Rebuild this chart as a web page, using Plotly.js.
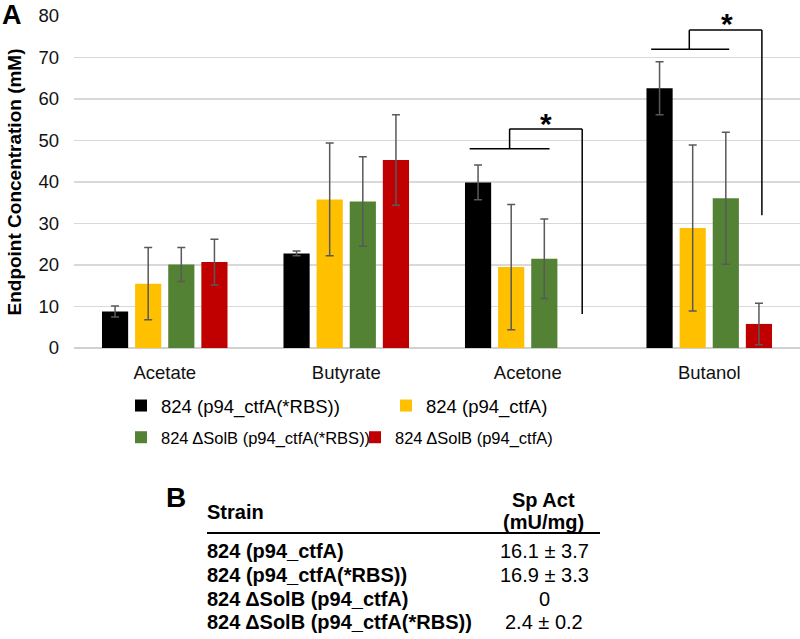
<!DOCTYPE html>
<html>
<head>
<meta charset="utf-8">
<script src="https://cdn.plot.ly/plotly-3.0.1.min.js"></script>
<style>html,body{margin:0;padding:0;background:#fff;}#chart{width:800px;height:639px;}</style>
</head>
<body>
<div id="chart"></div>
<script>
// ---- data ----
const categories = ['Acetate', 'Butyrate', 'Acetone', 'Butanol'];
const seriesNames = ['824 (p94_ctfA(*RBS))', '824 (p94_ctfA)', '824 ΔSolB (p94_ctfA(*RBS))', '824 ΔSolB (p94_ctfA)'];
const blackVals = [8.8, 22.8, 39.9, 62.6];
const blackErr = [1.3, 0.6, 4.2, 6.4];
const yellowVals = [15.5, 35.8, 19.5, 28.9];
const yellowErr = [8.7, 13.6, 15.1, 20.0];
const greenVals = [20.1, 35.3, 21.5, 36.1];
const greenErr = [4.1, 10.8, 9.6, 15.9];
const redVals = [20.7, 45.3, null, 5.8];
const redErr = [5.5, 10.9, null, 5.0];
const yTicks = [0, 10, 20, 30, 40, 50, 60, 70, 80];

// significance brackets (category-index x, data y)
const sigGroupLeft = [1.68, 2.68];
const sigGroupRight = [2.12, 3.11];
const sigGroupY = [48.0, 72.0];
const sigBracketX0 = [1.90, 2.89];
const sigBracketX1 = [2.30, 3.29];
const sigTopY = [52.8, 76.6];
const sigEndY = [8.2, 32.0];
const sigStarX = [2.10, 3.10];
const sigStarY = [55.4, 79.4];
const sigLabels = ['*', '*'];

// table (panel B)
const tableHeaders = ['Strain', 'Sp Act', '(mU/mg)'];
const strains = ['824 (p94_ctfA)', '824 (p94_ctfA(*RBS))', '824 ΔSolB (p94_ctfA)', '824 ΔSolB (p94_ctfA(*RBS))'];
const spAct = ['16.1 ± 3.7', '16.9 ± 3.3', '0', '2.4 ± 0.2'];

// ---- styles ----
const FONT = 'Liberation Sans, Arial, Helvetica, sans-serif';
const colors = ['#000000', '#FFC000', '#548235', '#C00000'];
const X0 = 74, X1 = 800, Y0 = 348, Y1 = 16;
function xp(px) { return (px - X0) / (X1 - X0); }
function yp(py) { return (Y0 - py) / (Y0 - Y1); }

const vals = [blackVals, yellowVals, greenVals, redVals];
const errs = [blackErr, yellowErr, greenErr, redErr];
const legends = ['legend', 'legend', 'legend2', 'legend2'];

const traces = vals.map((v, i) => ({
  type: 'bar',
  name: seriesNames[i],
  x: categories,
  y: v,
  legend: legends[i],
  marker: {color: colors[i], line: {width: 0}},
  error_y: {type: 'data', array: errs[i], visible: true, color: '#595959', thickness: 1.5, width: 4},
  hoverinfo: 'x+y+name'
}));

const shapes = [];
for (let i = 0; i < sigGroupY.length; i++) {
  const ln = {color: '#000', width: 1.5};
  shapes.push({type: 'line', xref: 'x', yref: 'y', x0: sigGroupLeft[i], x1: sigGroupRight[i], y0: sigGroupY[i], y1: sigGroupY[i], line: ln});
  shapes.push({type: 'line', xref: 'x', yref: 'y', x0: sigBracketX0[i], x1: sigBracketX0[i], y0: sigGroupY[i], y1: sigTopY[i], line: ln});
  shapes.push({type: 'line', xref: 'x', yref: 'y', x0: sigBracketX0[i], x1: sigBracketX1[i], y0: sigTopY[i], y1: sigTopY[i], line: ln});
  shapes.push({type: 'line', xref: 'x', yref: 'y', x0: sigBracketX1[i], x1: sigBracketX1[i], y0: sigTopY[i], y1: sigEndY[i], line: ln});
}
// table rule
shapes.push({type: 'line', xref: 'paper', yref: 'paper', x0: xp(207), x1: xp(600), y0: yp(533), y1: yp(533), line: {color: '#000', width: 2}});

const annotations = [];
sigLabels.forEach((s, i) => annotations.push({
  xref: 'x', yref: 'y', x: sigStarX[i], y: sigStarY[i], text: s, showarrow: false,
  xanchor: 'center', yanchor: 'middle', yshift: -5,
  font: {family: FONT, size: 30, color: '#000', weight: 'bold'}
}));
annotations.push({xref: 'paper', yref: 'paper', x: xp(12), y: yp(15), text: 'A', showarrow: false,
  xanchor: 'center', yanchor: 'middle', font: {family: FONT, size: 27, color: '#000', weight: 'bold'}});
annotations.push({xref: 'paper', yref: 'paper', x: xp(176), y: yp(497), text: 'B', showarrow: false,
  xanchor: 'center', yanchor: 'middle', font: {family: FONT, size: 28, color: '#000', weight: 'bold'}});
annotations.push({xref: 'paper', yref: 'paper', x: xp(205), y: yp(512), text: tableHeaders[0], showarrow: false,
  xanchor: 'left', yanchor: 'middle', font: {family: FONT, size: 20, color: '#000', weight: 'bold'}});
annotations.push({xref: 'paper', yref: 'paper', x: xp(543), y: yp(500), text: tableHeaders[1], showarrow: false,
  xanchor: 'center', yanchor: 'middle', font: {family: FONT, size: 20, color: '#000', weight: 'bold'}});
annotations.push({xref: 'paper', yref: 'paper', x: xp(543), y: yp(522), text: tableHeaders[2], showarrow: false,
  xanchor: 'center', yanchor: 'middle', font: {family: FONT, size: 20, color: '#000', weight: 'bold'}});
strains.forEach((s, i) => {
  const py = 551 + i * 23.8;
  annotations.push({xref: 'paper', yref: 'paper', x: xp(205), y: yp(py), text: s, showarrow: false,
    xanchor: 'left', yanchor: 'middle', font: {family: FONT, size: 20, color: '#000', weight: 'bold'}});
  annotations.push({xref: 'paper', yref: 'paper', x: xp(544), y: yp(py), text: spAct[i], showarrow: false,
    xanchor: 'center', yanchor: 'middle', font: {family: FONT, size: 20, color: '#000'}});
});

const layout = {
  width: 800, height: 639,
  margin: {l: X0, r: 800 - X1, t: Y1, b: 639 - Y0, pad: 0},
  paper_bgcolor: '#fff', plot_bgcolor: '#fff',
  font: {family: FONT, color: '#000'},
  barmode: 'group', bargap: 0.27, bargroupgap: 0.21,
  xaxis: {
    type: 'category', range: [-0.5, 3.5], showgrid: false, showline: false, zeroline: false,
    ticks: '', tickfont: {family: FONT, size: 18.5, color: '#111'}, ticklabelstandoff: 11
  },
  yaxis: {
    range: [0, 80], tickvals: yTicks, showgrid: true, gridcolor: '#d9d9d9', gridwidth: 1.3,
    zeroline: true, zerolinecolor: '#d0d0d0', zerolinewidth: 1.5, showline: false, ticks: '',
    tickfont: {family: FONT, size: 18.5, color: '#111'}, ticklabelstandoff: 14,
    title: {text: 'Endpoint Concentration (mM)', standoff: 11, font: {family: FONT, size: 19, color: '#000', weight: 'bold'}}
  },
  legend: {
    orientation: 'h', x: xp(121), xanchor: 'left', y: yp(387), yanchor: 'top',
    entrywidth: 220, entrywidthmode: 'pixels', font: {family: FONT, size: 18.5, color: '#000'},
    bgcolor: 'rgba(0,0,0,0)', borderwidth: 0
  },
  legend2: {
    orientation: 'h', x: xp(121), xanchor: 'left', y: yp(420), yanchor: 'top',
    entrywidth: 189, entrywidthmode: 'pixels', font: {family: FONT, size: 16.5, color: '#000'},
    bgcolor: 'rgba(0,0,0,0)', borderwidth: 0
  },
  shapes: shapes,
  annotations: annotations,
  showlegend: true
};

Plotly.newPlot('chart', traces, layout, {displayModeBar: false, staticPlot: true});
</script>
</body>
</html>
